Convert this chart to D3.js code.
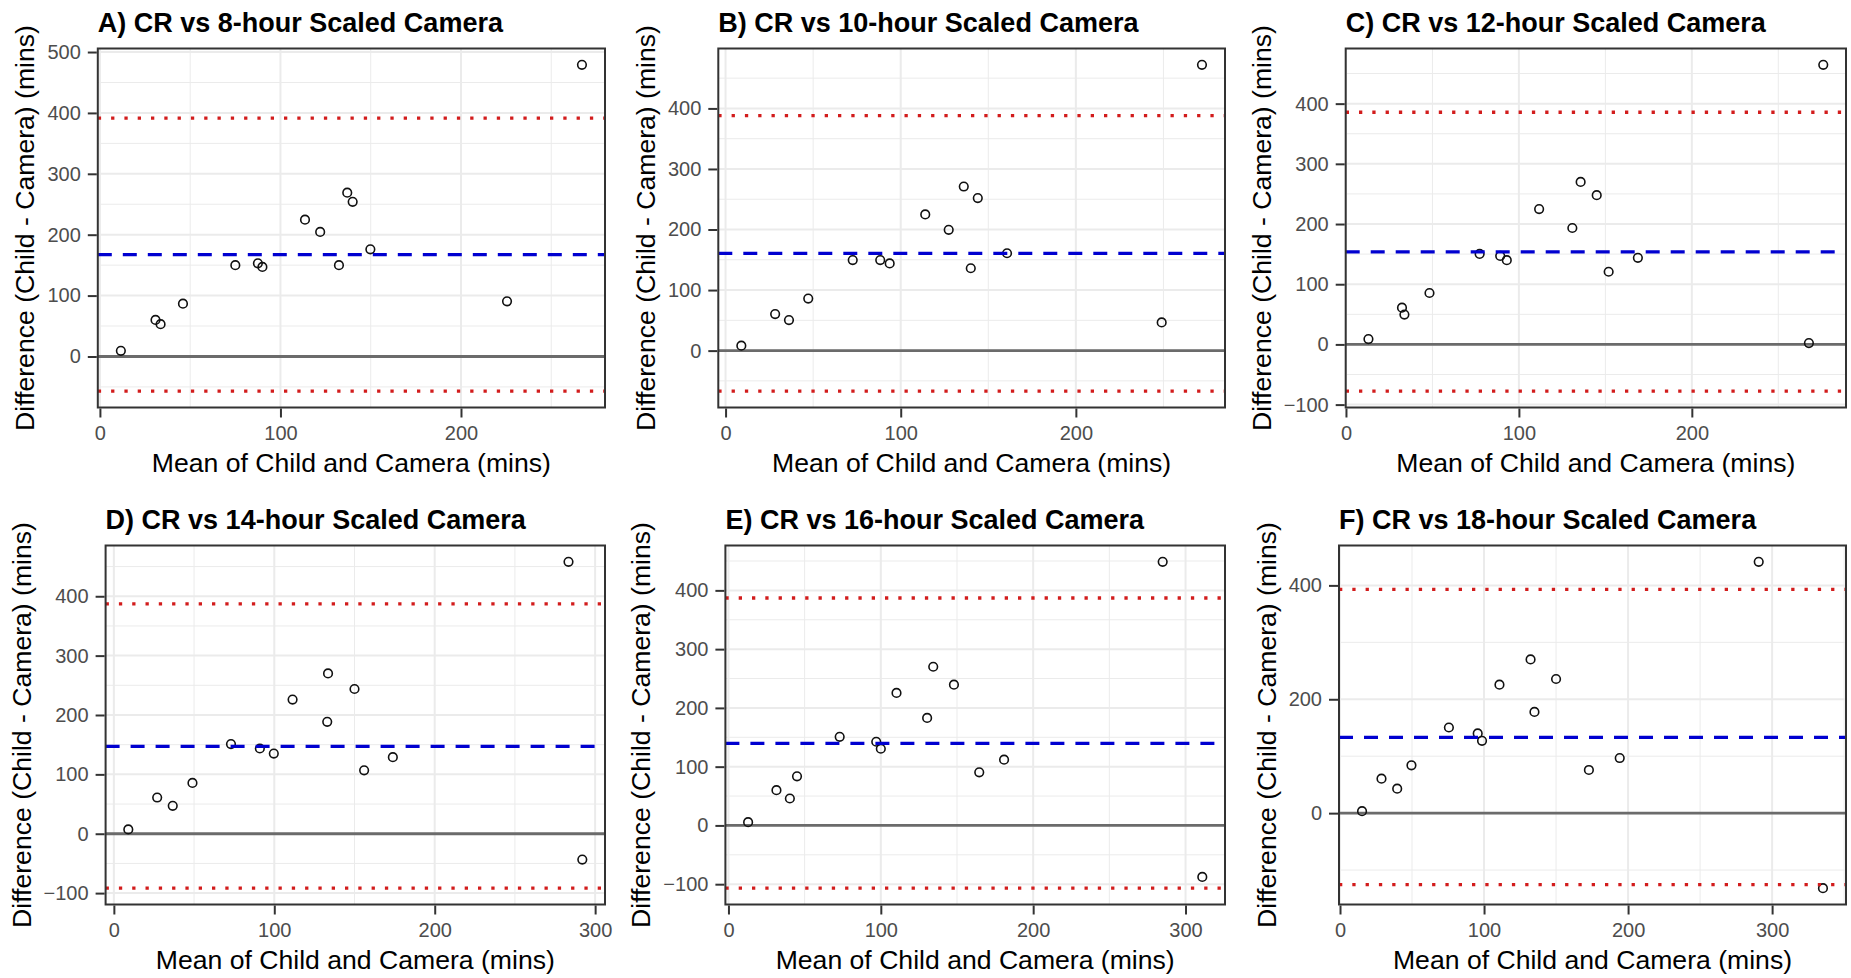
<!DOCTYPE html>
<html>
<head>
<meta charset="utf-8">
<script src="https://cdn.jsdelivr.net/npm/d3@7"></script>
<style>
body { margin: 0; background: #fff; }
svg text { font-family: "Liberation Sans", Arial, sans-serif; }
</style>
</head>
<body>
<div id="stage"></div>
<script>

// panel titles
var panelTitles = [
  "A) CR vs 8-hour Scaled Camera",
  "B) CR vs 10-hour Scaled Camera",
  "C) CR vs 12-hour Scaled Camera",
  "D) CR vs 14-hour Scaled Camera",
  "E) CR vs 16-hour Scaled Camera",
  "F) CR vs 18-hour Scaled Camera"
];

// mean of child and camera (x) / difference child - camera (y), one pair per panel
var meanA = [11.6, 30.8, 33.6, 46, 75, 87.5, 90, 113.6, 122, 132.4, 137, 140, 149.8, 225.5, 267];
var diffA = [9.3, 60, 53, 86.7, 150, 153, 147, 224.6, 204.5, 150, 269, 254, 176, 90.5, 479];

var meanB = [9, 28.3, 36.2, 47.2, 72.6, 88.3, 93.7, 114, 127.4, 136, 140, 144, 160.7, 249, 272];
var diffB = [8.2, 60.3, 50.4, 86, 149.6, 149.6, 144, 225, 199.5, 271, 136, 252, 160.8, 46.6, 472];

var meanC = [13, 32.4, 33.8, 48.3, 77.3, 89.2, 93, 111.7, 130.9, 135.7, 145, 151.9, 168.8, 267.7, 276];
var diffC = [8.8, 61, 49.6, 85.4, 150.4, 147, 140, 224.8, 193.4, 270, 248, 120.7, 143.8, 2.2, 464.5];

var meanD = [9, 27, 36.7, 49, 73, 91, 99.7, 111.4, 133, 133.5, 150, 156, 173.9, 283.4, 292];
var diffD = [7.3, 61, 47, 85.6, 151, 143.6, 135, 226, 188.5, 270, 243.8, 106.8, 129, 458, -43.6];

var meanE = [12.9, 31.5, 40.3, 45, 73, 97, 100, 110.3, 130.4, 134.4, 148, 164.6, 180.9, 285, 311];
var diffE = [5.6, 60, 45.8, 83.6, 150.8, 142.4, 130.5, 225.4, 183, 270, 239.5, 90.4, 111.9, 448.6, -87.6];

var meanF = [15.3, 28.8, 39.7, 49.6, 75.6, 95.6, 98.6, 110.7, 132.3, 135, 150, 172.8, 194.2, 290.7, 335.3];
var diffF = [3.5, 60.6, 43, 84, 150.4, 140, 127, 225.7, 270, 177.8, 235.6, 75.8, 96.8, 441.4, -131.8];

// bias (mean difference) and limits of agreement
var biasLine = [167.4, 160.5, 153.7, 147, 139.5, 133];
var upperLoA = [391.5, 388, 385.7, 387, 387, 393];
var lowerLoA = [-57, -67, -77.7, -91.7, -106.8, -125.4];

// tick labels
var xTicks = [
  [0, 100, 200], [0, 100, 200], [0, 100, 200],
  [0, 100, 200, 300], [0, 100, 200, 300], [0, 100, 200, 300]
];
var yTicks = [
  [0, 100, 200, 300, 400, 500],
  [0, 100, 200, 300, 400],
  [-100, 0, 100, 200, 300, 400],
  [-100, 0, 100, 200, 300, 400],
  [-100, 0, 100, 200, 300, 400],
  [0, 200, 400]
];

var xLabel = "Mean of Child and Camera (mins)";
var yLabel = "Difference (Child - Camera) (mins)";

var meansX = [meanA, meanB, meanC, meanD, meanE, meanF];
var diffsY = [diffA, diffB, diffC, diffD, diffE, diffF];

//************************************************************
// layout (panel boxes in pixels)
//************************************************************
var W = 1851, H = 978;
var frames = [
  {l: 97.8,  r: 605,   t: 48.5,  b: 407.5},
  {l: 718.3, r: 1225,  t: 48.5,  b: 407.5},
  {l: 1345.7, r: 1846, t: 48.5,  b: 407.5},
  {l: 105.6, r: 605,   t: 545.5, b: 904.5},
  {l: 725.4, r: 1225,  t: 545.5, b: 904.5},
  {l: 1339,  r: 1846,  t: 545.5, b: 904.5}
];

var tickLen = 9;

var svg = d3.select("#stage")
  .append("svg")
  .attr("width", W)
  .attr("height", H)
  .style("background", "#fff");

// ggplot style: 5% expansion on each side
function expand(vals){
  var ext = d3.extent(vals);
  var r = ext[1] - ext[0];
  return [ext[0] - r * 0.05, ext[1] + r * 0.05];
}

function minorBreaks(ticks, domain){
  var step = ticks[1] - ticks[0];
  var res = [];
  for(var v = ticks[0] - step / 2; v <= ticks[ticks.length - 1] + step / 2; v += step){
    if(v >= domain[0] && v <= domain[1]) res.push(v);
  }
  return res;
}

panelTitles.forEach(function(title, i){

  var f = frames[i];
  var xs = meansX[i], ys = diffsY[i];
  var points = xs.map(function(d, k){ return {x: d, y: ys[k]}; });

  var xScale = d3.scaleLinear()
    .domain(expand(xs))
    .range([f.l, f.r]);

  var yScale = d3.scaleLinear()
    .domain(expand(ys.concat([biasLine[i], upperLoA[i], lowerLoA[i], 0])))
    .range([f.b, f.t]);

  var g = svg.append("g").attr("class", "panel");

  g.append("clipPath")
    .attr("id", "clip" + i)
    .append("rect")
    .attr("x", f.l).attr("y", f.t)
    .attr("width", f.r - f.l).attr("height", f.b - f.t);

  var inner = g.append("g").attr("clip-path", "url(#clip" + i + ")");

  // grid
  var xMinor = minorBreaks(xTicks[i], xScale.domain());
  var yMinor = minorBreaks(yTicks[i], yScale.domain());

  inner.selectAll(".xminor").data(xMinor).enter().append("line")
    .attr("x1", function(d){ return xScale(d); }).attr("x2", function(d){ return xScale(d); })
    .attr("y1", f.t).attr("y2", f.b)
    .attr("stroke", "#ebebeb").attr("stroke-width", 1);
  inner.selectAll(".yminor").data(yMinor).enter().append("line")
    .attr("y1", function(d){ return yScale(d); }).attr("y2", function(d){ return yScale(d); })
    .attr("x1", f.l).attr("x2", f.r)
    .attr("stroke", "#ebebeb").attr("stroke-width", 1);
  inner.selectAll(".xmajor").data(xTicks[i]).enter().append("line")
    .attr("x1", function(d){ return xScale(d); }).attr("x2", function(d){ return xScale(d); })
    .attr("y1", f.t).attr("y2", f.b)
    .attr("stroke", "#ebebeb").attr("stroke-width", 2);
  inner.selectAll(".ymajor").data(yTicks[i]).enter().append("line")
    .attr("y1", function(d){ return yScale(d); }).attr("y2", function(d){ return yScale(d); })
    .attr("x1", f.l).attr("x2", f.r)
    .attr("stroke", "#ebebeb").attr("stroke-width", 2);

  // zero line
  inner.append("line")
    .attr("x1", f.l).attr("x2", f.r)
    .attr("y1", yScale(0)).attr("y2", yScale(0))
    .attr("stroke", "#6b6b6b").attr("stroke-width", 2.8);

  // points
  inner.selectAll("circle").data(points).enter().append("circle")
    .attr("cx", function(d){ return xScale(d.x); })
    .attr("cy", function(d){ return yScale(d.y); })
    .attr("r", 4.3)
    .attr("fill", "none")
    .attr("stroke", "#111")
    .attr("stroke-width", 1.6);

  // bias and limits of agreement
  inner.append("line")
    .attr("x1", f.l).attr("x2", f.r)
    .attr("y1", yScale(biasLine[i])).attr("y2", yScale(biasLine[i]))
    .attr("stroke", "#0000d0").attr("stroke-width", 3.3)
    .attr("stroke-dasharray", "14,11");

  [upperLoA[i], lowerLoA[i]].forEach(function(v){
    inner.append("line")
      .attr("x1", f.l).attr("x2", f.r)
      .attr("y1", yScale(v)).attr("y2", yScale(v))
      .attr("stroke", "#d21c1c").attr("stroke-width", 3.3)
      .attr("stroke-dasharray", "3.3,10");
  });

  // frame
  g.append("rect")
    .attr("x", f.l).attr("y", f.t)
    .attr("width", f.r - f.l).attr("height", f.b - f.t)
    .attr("fill", "none")
    .attr("stroke", "#333")
    .attr("stroke-width", 2);

  // axes
  var xAxis = d3.axisBottom(xScale)
    .tickValues(xTicks[i])
    .tickSize(tickLen)
    .tickPadding(8.5);

  var yAxis = d3.axisLeft(yScale)
    .tickValues(yTicks[i])
    .tickSize(tickLen)
    .tickPadding(7);

  var gX = g.append("g")
    .attr("transform", "translate(0," + (f.b + 1) + ")")
    .call(xAxis);
  var gY = g.append("g")
    .attr("transform", "translate(" + (f.l - 1) + ",0)")
    .call(yAxis);

  [gX, gY].forEach(function(ax){
    ax.select(".domain").remove();
    ax.selectAll(".tick line").attr("stroke", "#333").attr("stroke-width", 2);
    ax.selectAll(".tick text")
      .attr("fill", "#4d4d4d")
      .style("font-size", "20px")
      .style("font-family", "'Liberation Sans', Arial, sans-serif");
  });

  var maxLab = 0;
  gY.selectAll(".tick text").each(function(){
    maxLab = Math.max(maxLab, this.getComputedTextLength());
  });

  // title
  g.append("text")
    .attr("x", f.l)
    .attr("y", f.t - 17)
    .style("font-size", "27px")
    .style("font-weight", "bold")
    .attr("fill", "#000")
    .text(title);

  // axis titles
  g.append("text")
    .attr("x", (f.l + f.r) / 2)
    .attr("y", f.b + 64)
    .attr("text-anchor", "middle")
    .style("font-size", "26.6px")
    .attr("fill", "#000")
    .text(xLabel);

  var yTitleX = f.l - tickLen - 7 - maxLab - 14;
  g.append("text")
    .attr("transform", "translate(" + yTitleX + "," + ((f.t + f.b) / 2) + ") rotate(-90)")
    .attr("text-anchor", "middle")
    .style("font-size", "26.6px")
    .attr("fill", "#000")
    .text(yLabel);
});

</script>
</body>
</html>
